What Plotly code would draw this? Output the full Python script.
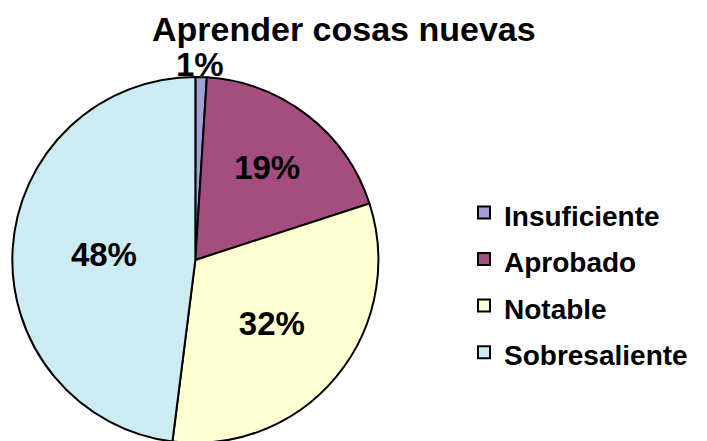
import plotly.graph_objects as go

categories = ["Insuficiente", "Aprobado", "Notable", "Sobresaliente"]
values = [1, 19, 32, 48]
colors = ["#A0A0D6", "#A64D7F", "#FFFFD2", "#CDEBF3"]

FONT = "Liberation Sans, Arial"
total = sum(values)

fig = go.Figure(go.Pie(
    labels=[f"<span style='font-size:28px'><b>{c}</b></span>" for c in categories],
    values=values,
    sort=False,
    direction="clockwise",
    rotation=0,
    marker=dict(colors=colors, line=dict(color="black", width=2)),
    texttemplate=["", "<b>%{percent:.0%}</b>", "<b>%{percent:.0%}</b>", "<b>%{percent:.0%}</b>"],
    textposition="inside",
    insidetextorientation="horizontal",
    textfont=dict(family=FONT, size=33, color="black"),
    domain=dict(x=[0.006, 0.524], y=[0.0136, 0.8436]),
    showlegend=True,
    hoverinfo="label+percent",
))

# small slice label placed just above the pie, as in the reference
fig.add_annotation(
    text=f"<b>{round(100 * values[0] / total)}%</b>",
    x=0.272, y=0.872, xref="paper", yref="paper",
    xanchor="center", yanchor="middle", showarrow=False,
    font=dict(family=FONT, size=33, color="black"),
)

fig.update_layout(
    width=707, height=441,
    margin=dict(l=0, r=0, t=0, b=0),
    paper_bgcolor="white",
    title=dict(text="<b>Aprender cosas nuevas</b>", x=0.475, xanchor="center",
               y=0.953, yanchor="middle",
               font=dict(family=FONT, size=34, color="black")),
    legend=dict(x=0.645, y=0.377, xanchor="left", yanchor="middle",
                font=dict(family=FONT, size=33.5, color="black")),
    uniformtext=dict(minsize=33, mode="show"),
)

fig.write_html("out.html")
